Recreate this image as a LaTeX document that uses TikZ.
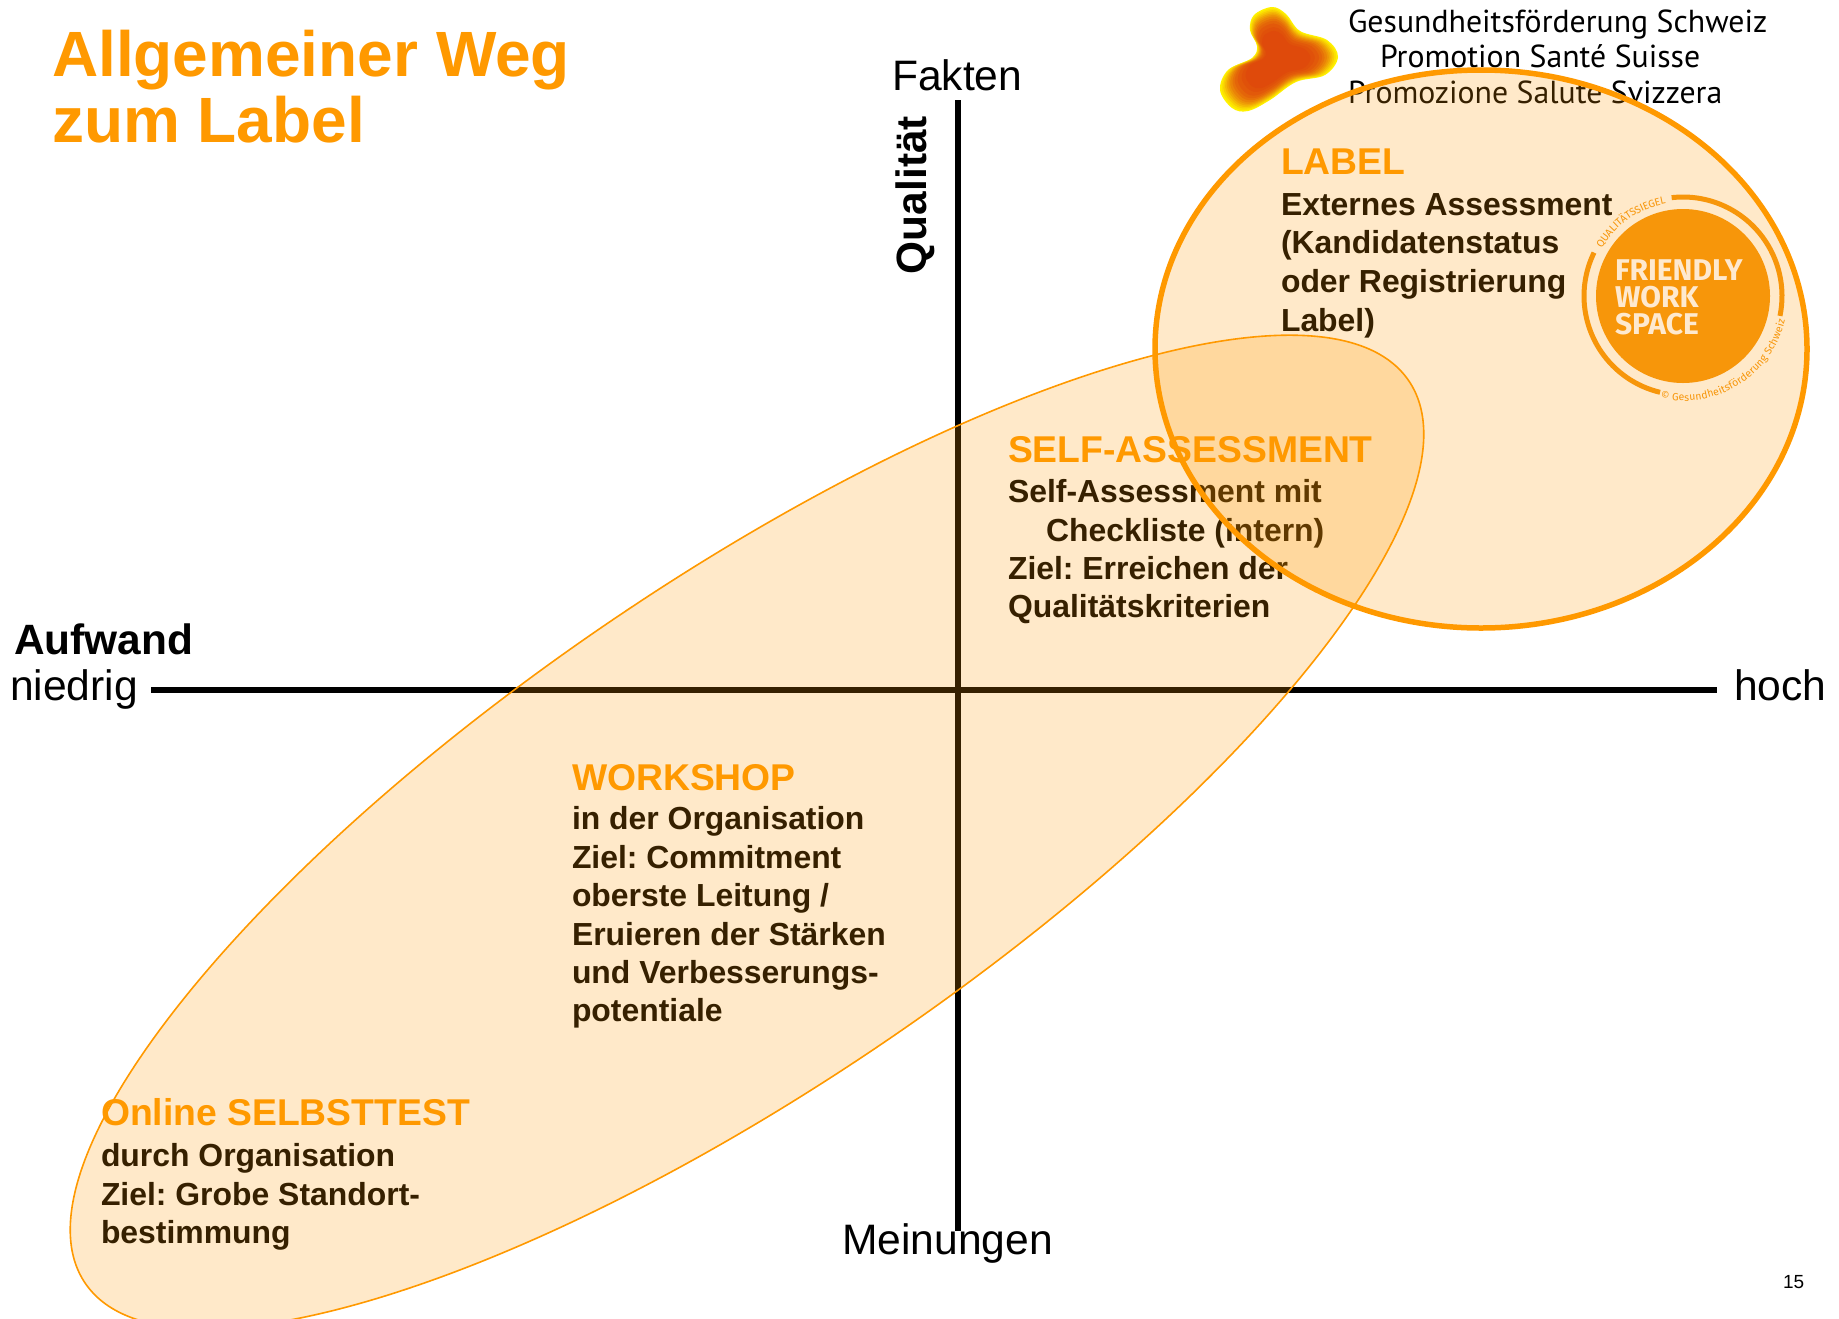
\documentclass[tikz,border=0pt]{standalone}
\usepackage{fontspec}
\setmainfont{Liberation Sans}
\newfontfamily\logofont{PT Sans}
\newfontfamily\sealfont{Fira Sans}
\usetikzlibrary{decorations.text}
\definecolor{fwsorange}{HTML}{FF9900}
\definecolor{sealorange}{HTML}{F7960A}
\definecolor{sealtext}{HTML}{FEE9CF}
\definecolor{blobyellow}{HTML}{FFF200}
\definecolor{blobred}{HTML}{DF4A0B}
\newcommand{\fsz}[1]{\fontsize{#1}{#1}\selectfont}
\newcommand{\blobshape}{plot[smooth cycle,tension=0.6] coordinates {(1272,7) (1254,15) (1250,30) (1257,46) (1252,58) (1228,70) (1220,90) (1232,108) (1248,111) (1270,100) (1296,82) (1325,75) (1338,57) (1327,40) (1300,31) (1286,14)}}
\tikzset{
  txt/.style={inner sep=0pt,outer sep=0pt,anchor=base west},
  axislabel/.style={txt,font=\fsz{42.6}},
  axisbold/.style={txt,font=\bfseries\fsz{42.4}},
  headline/.style={txt,font=\bfseries\fsz{37.3},text=fwsorange},
  bodyline/.style={txt,font=\bfseries\fsz{31.9},text=black},
  logoline/.style={txt,font=\logofont\fsz{31.8}},
  axisline/.style={line width=6pt,black},
  bubble/.style={draw=fwsorange,fill=fwsorange,fill opacity=0.21},
}
\begin{document}
\frenchspacing
\begin{tikzpicture}[x=1pt,y=-1pt]
\useasboundingbox (0,0) rectangle (1839,1318);
\clip (0,0) rectangle (1839,1318);
\fill[white] (0,0) rectangle (1839,1318);
% logo
\node[logoline] (lg1) at (1348,32) {Gesundheitsförderung Schweiz};
\node[logoline] (lg2) at (1380,67) {Promotion Santé Suisse};
\node[logoline] (lg3) at (1348,103) {Promozione Salute Svizzera};
\foreach \s/\m in {1/0,.97/10,.94/22,.91/34,.88/46,.85/56,.82/66,.78/76,.74/84,.69/91,.62/96,.55/100}{
  \fill[blobred!\m!blobyellow,shift={(1277,60)},scale=\s,shift={(-1277,-60)}] \blobshape;
}
% axes
\coordinate (hl) at (151,690);
\coordinate (hr) at (1717,690);
\coordinate (vt) at (958,100);
\coordinate (vb) at (958,1231);
\draw[axisline] (hl) -- (hr);
\draw[axisline] (vt) -- (vb);
% labels
\node[txt,font=\bfseries\fsz{64},text=fwsorange] (t1) at (52,76) {Allgemeiner Weg};
\node[txt,font=\bfseries\fsz{64},text=fwsorange] (t2) at (52,142) {zum Label};
\node[axislabel] (fakten) at (892,90) {Fakten};
\node[axisbold,rotate=90] (qual) at (926,274) {Qualität};
\node[axisbold] (aufw) at (14,654) {Aufwand};
\node[axislabel] (nied) at (10,700) {niedrig};
\node[axislabel] (hoch) at (1734,700) {hoch};
\node[axislabel] (mein) at (842,1254) {Meinungen};
\node[txt,font=\fsz{19}] (pg) at (1783,1288) {15};
% label block
\node[headline] (la0) at (1281,174) {LABEL};
\node[bodyline] (la1) at (1281,215) {Externes Assessment};
\node[bodyline] (la2) at (1281,253) {(Kandidatenstatus};
\node[bodyline] (la3) at (1281,292) {oder Registrierung};
\node[bodyline] (la4) at (1281,331) {Label)};
% self assessment
\node[headline] (sa0) at (1008,462) {SELF-ASSESSMENT};
\node[bodyline] (sa1) at (1008,502) {Self-Assessment mit};
\node[bodyline] (sa2) at (1046,541) {Checkliste (intern)};
\node[bodyline] (sa3) at (1008,579) {Ziel: Erreichen der};
\node[bodyline] (sa4) at (1008,617) {Qualitätskriterien};
% workshop
\node[headline] (ws0) at (572,790) {WORKSHOP};
\node[bodyline] (ws1) at (572,829) {in der Organisation};
\node[bodyline] (ws2) at (572,868) {Ziel: Commitment};
\node[bodyline] (ws3) at (572,906) {oberste Leitung /};
\node[bodyline] (ws4) at (572,945) {Eruieren der Stärken};
\node[bodyline] (ws5) at (572,983) {und Verbesserungs-};
\node[bodyline] (ws6) at (572,1021) {potentiale};
% online
\node[headline] (on0) at (101,1125) {Online SELBSTTEST};
\node[bodyline] (on1) at (101,1166) {durch Organisation};
\node[bodyline] (on2) at (101,1205) {Ziel: Grobe Standort-};
\node[bodyline] (on3) at (101,1243) {bestimmung};
% bubbles
\draw[bubble,line width=1.6pt,rotate around={34.3:(747,832)}] (747,832) ellipse [x radius=801, y radius=251];
\draw[bubble,line width=5.5pt] (1481,349) ellipse [x radius=326, y radius=279];
% seal
\coordinate (sc) at (1683,296);
\fill[sealorange] (sc) circle [radius=87];
\draw[sealorange,line width=5pt] ([shift={(-96.6:99)}]sc) arc [start angle=-96.6,end angle=11.6,radius=99];
\draw[sealorange,line width=5pt] ([shift={(-154:99)}]sc) arc [start angle=-154,end angle=-256.6,radius=99];
\path[postaction={decorate},decoration={text along path,raise=-3pt,text align={center},
  text={|\sealfont\fsz{10.5}\color{sealorange}|QUALITÄTSSIEGEL}}]
  ([shift={(-152:97)}]sc) arc [start angle=-152,end angle=-98,radius=97];
\path[postaction={decorate},decoration={text along path,raise=-3pt,text align={center},
  text={|\sealfont\fsz{10.5}\color{sealorange}|© Gesundheitsförderung Schweiz}}]
  ([shift={(-258:102)}]sc) arc [start angle=-258,end angle=-346,radius=102];
\node[txt,font=\sealfont\bfseries\fsz{30},text=sealtext] (s1) at (1615,280) {FRIENDLY};
\node[txt,font=\sealfont\bfseries\fsz{30},text=sealtext] (s2) at (1615,307) {WORK};
\node[txt,font=\sealfont\bfseries\fsz{30},text=sealtext] (s3) at (1615,334) {SPACE};
\end{tikzpicture}
\end{document}
